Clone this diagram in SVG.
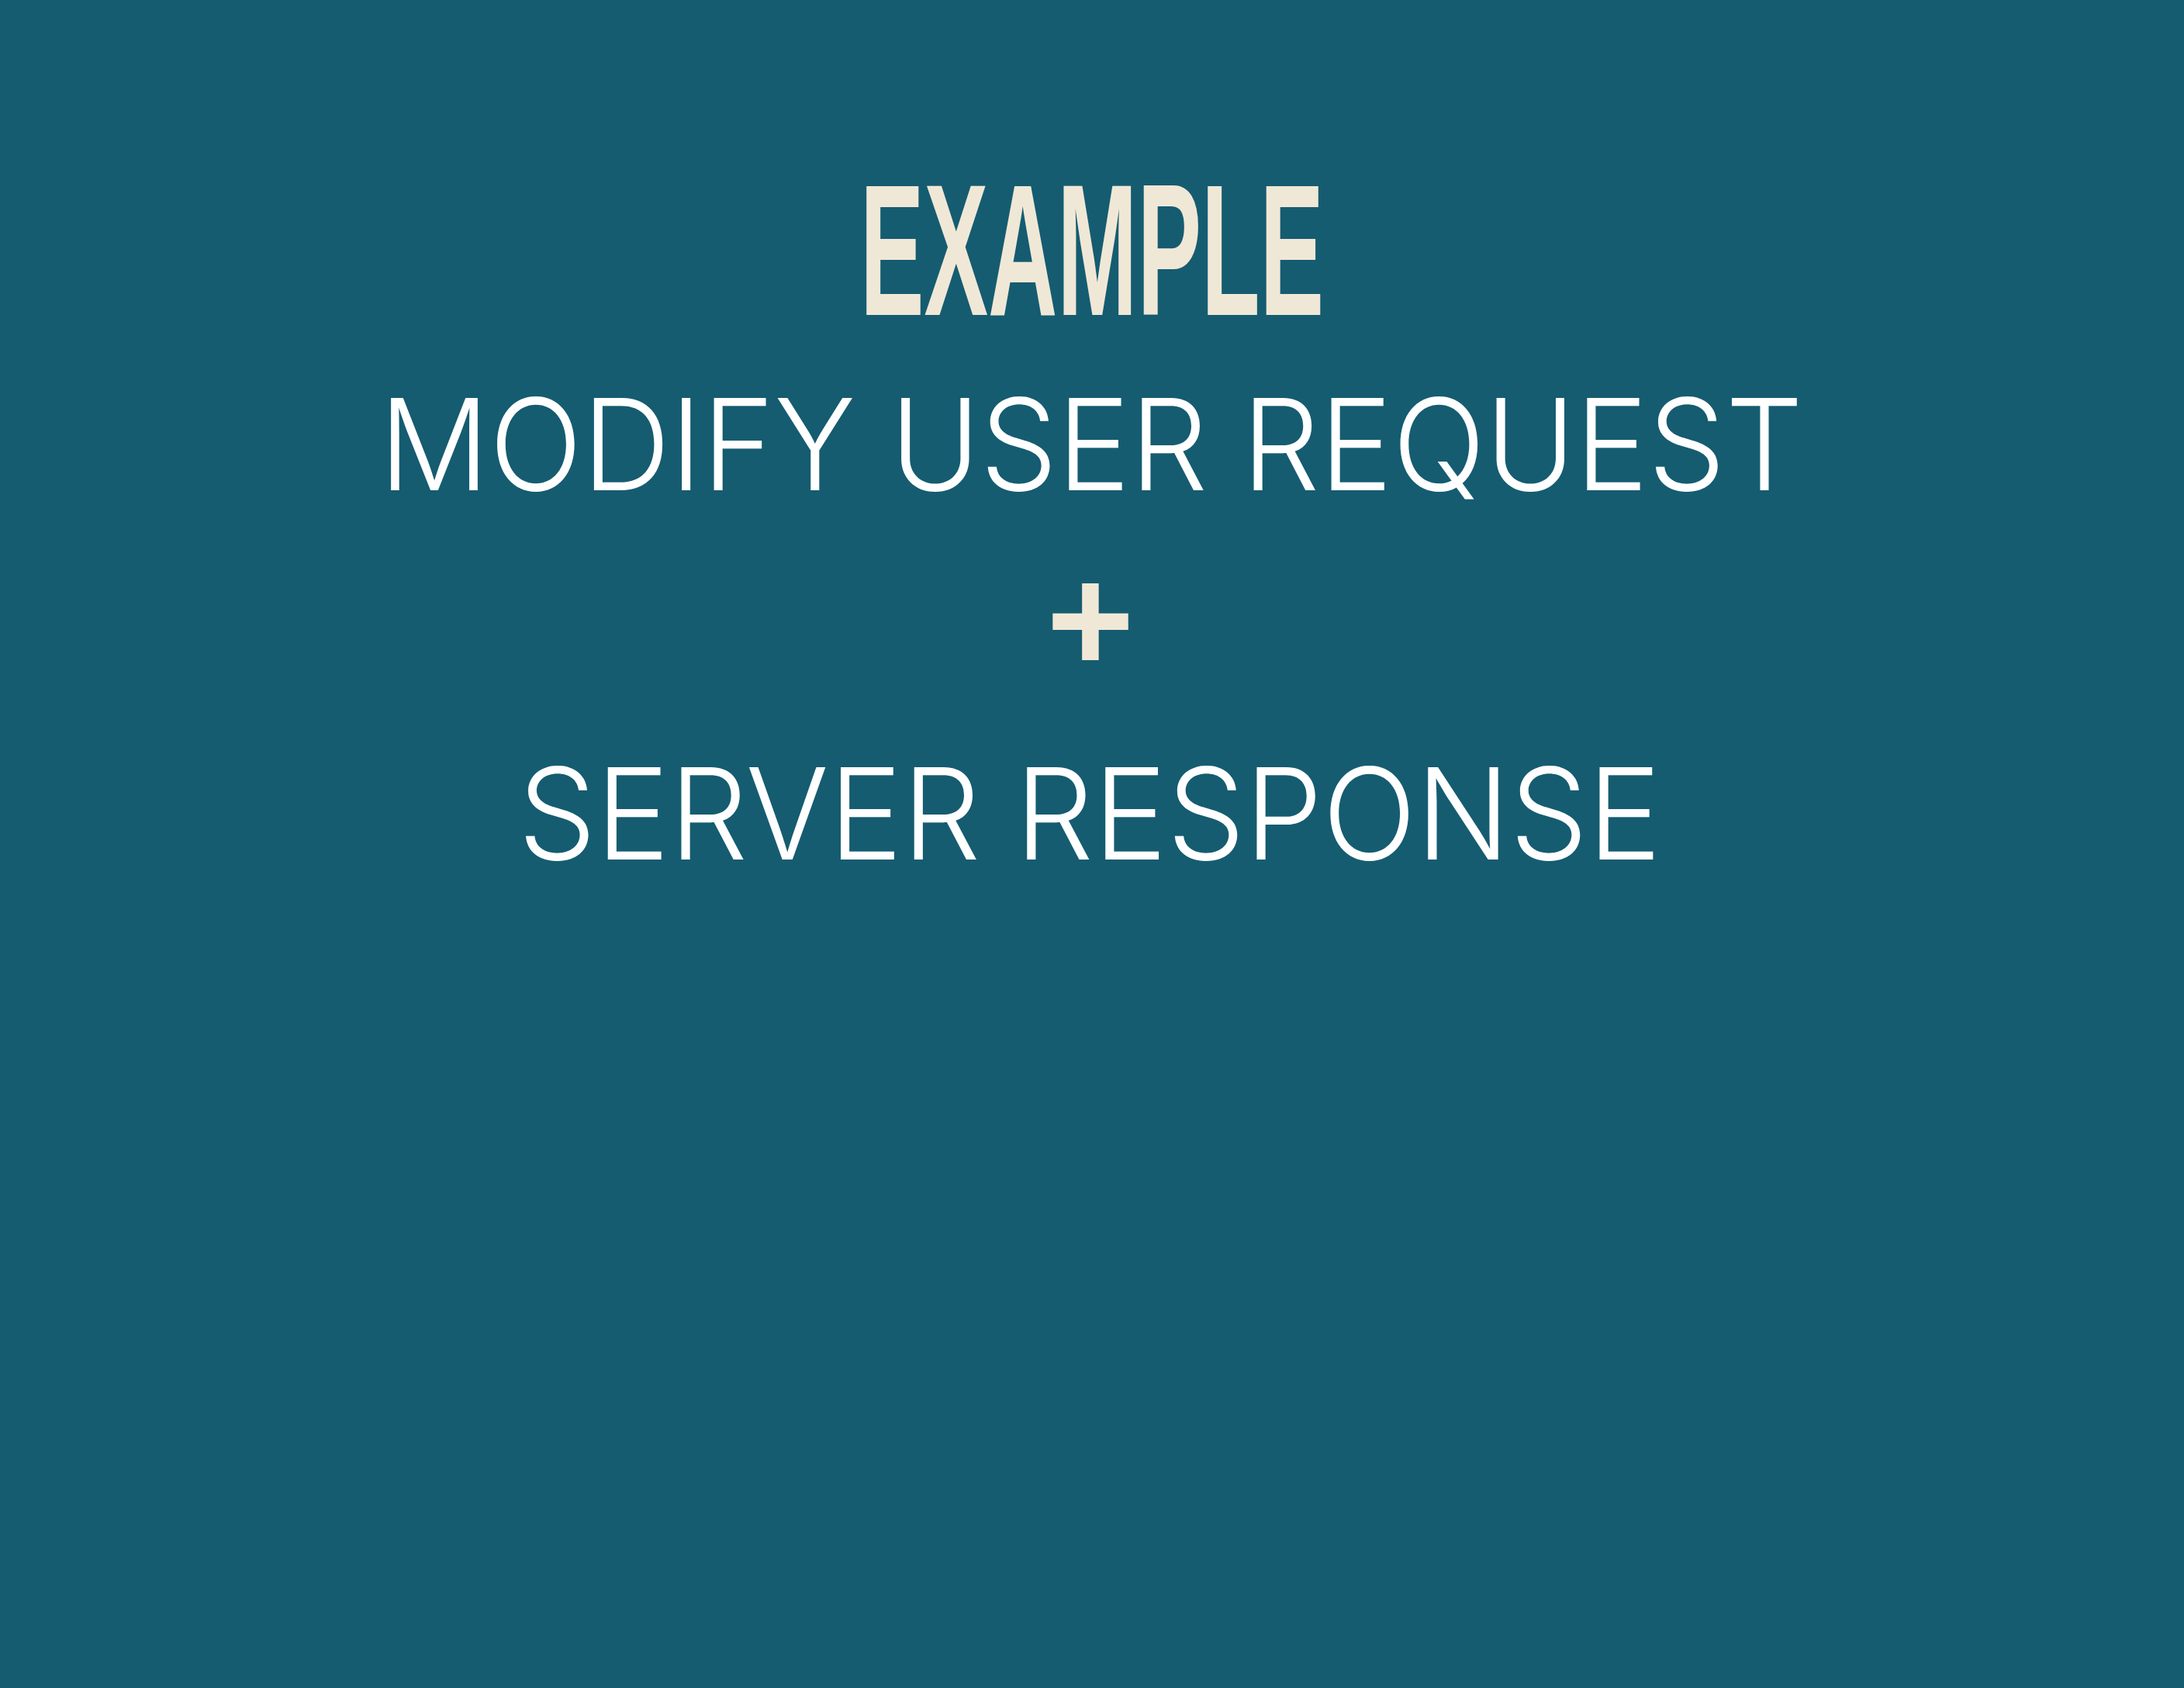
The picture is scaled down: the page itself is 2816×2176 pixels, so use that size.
<svg xmlns="http://www.w3.org/2000/svg" width="2816" height="2176" viewBox="0 0 2816 2176">
<style>
.title{font-family:"Liberation Sans","DejaVu Sans",sans-serif;font-weight:bold;fill:#F0E8D6}
.body{font-family:Inter,"Liberation Sans",sans-serif;font-weight:300;fill:#FFFFFF}
</style>
<rect x="0" y="0" width="2816" height="2176" fill="#155C71"/>
<g id="heading">
<text class="title" x="1109" y="406" font-size="241" textLength="598" lengthAdjust="spacingAndGlyphs">EXAMPLE</text>
</g>
<g id="line1">
<text class="body" x="489" y="632" font-size="164" textLength="1836" lengthAdjust="spacingAndGlyphs">MODIFY USER REQUEST</text>
</g>
<g id="plus">
<text class="title" x="1406" y="866" font-size="194" text-anchor="middle">+</text>
</g>
<g id="line2">
<text class="body" x="668" y="1108" font-size="164" textLength="1474" lengthAdjust="spacingAndGlyphs">SERVER RESPONSE</text>
</g>
</svg>
